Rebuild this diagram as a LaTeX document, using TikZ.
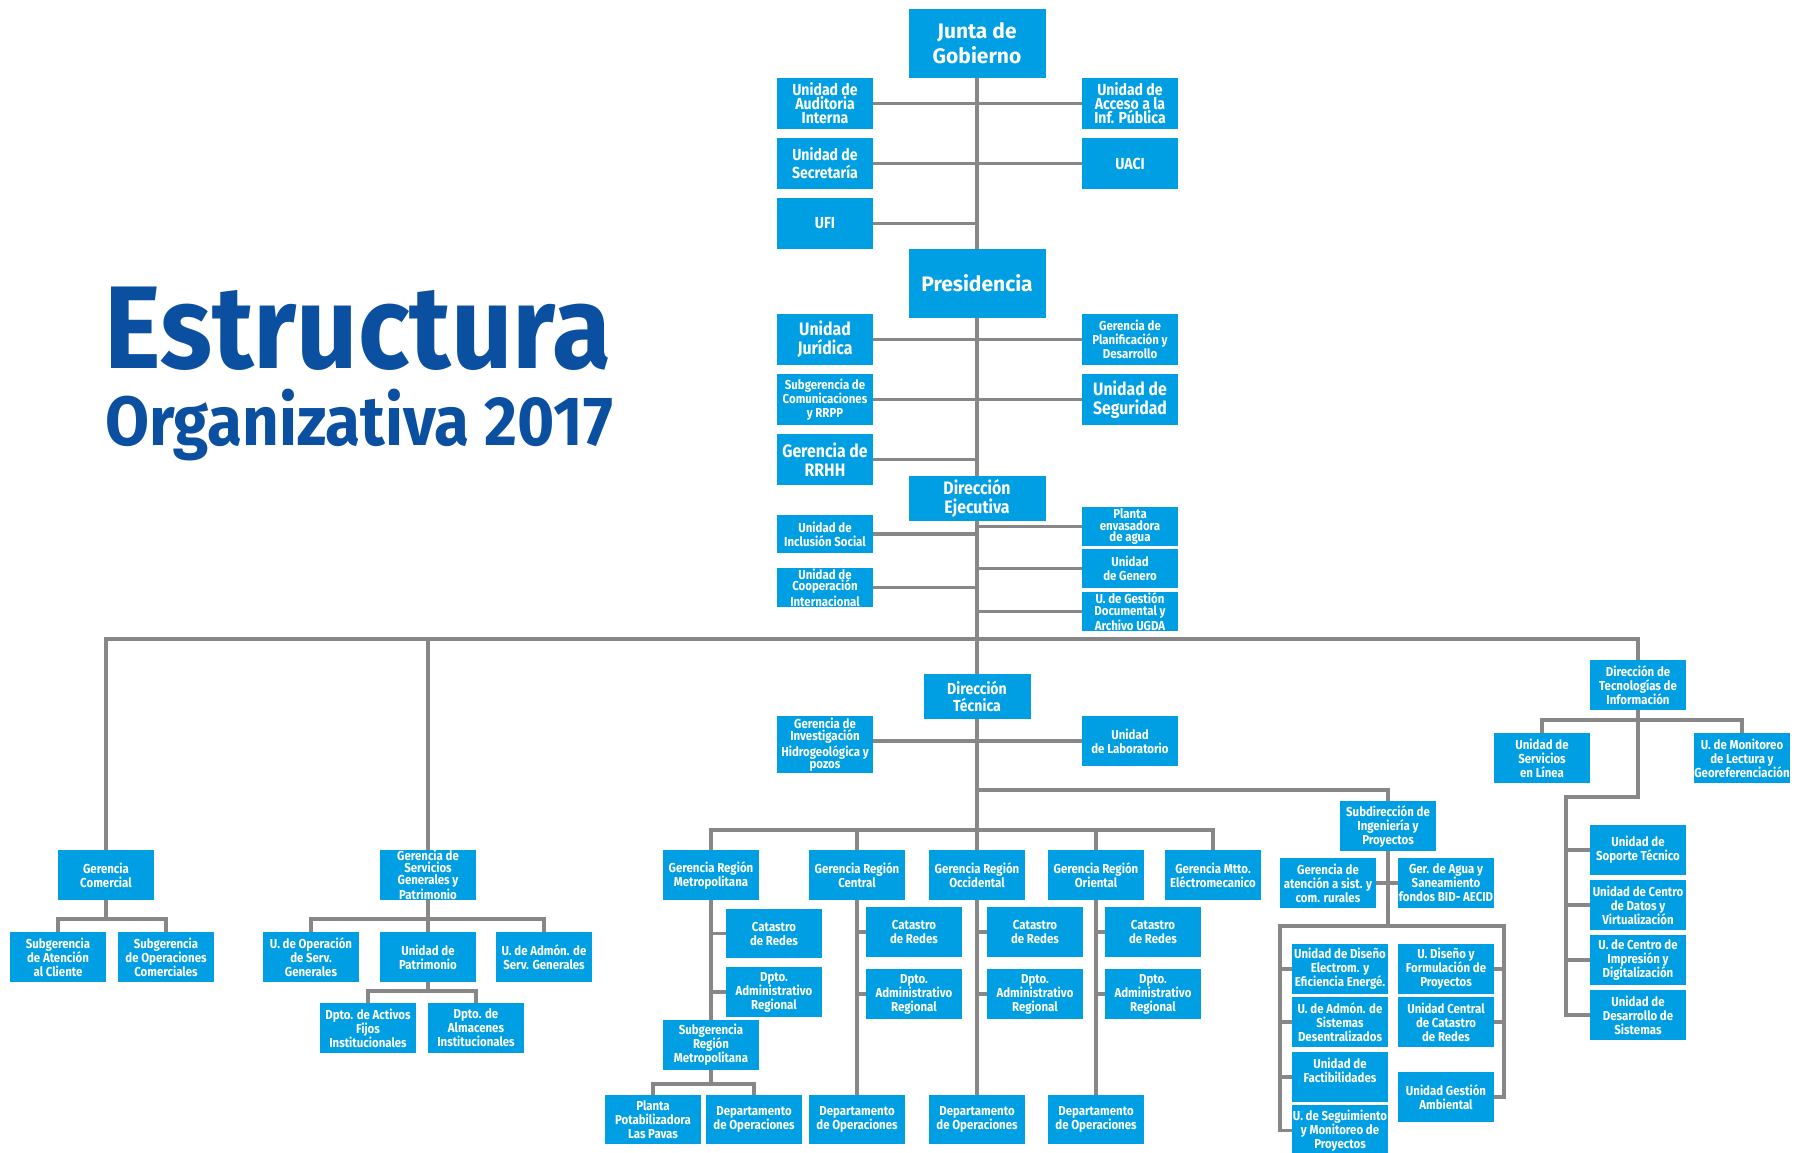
\documentclass[tikz,border=0pt]{standalone}
\usepackage{fontspec}
\usepackage{graphicx}
\usetikzlibrary{backgrounds}
\newfontfamily\boxfont[FakeStretch=0.88]{Fira Sans}
\newfontfamily\bigboxfont{Fira Sans}
\newfontfamily\titlefont{Fira Sans}
\definecolor{boxblue}{HTML}{009FE3}
\definecolor{titleblue}{HTML}{0B4FA0}
\definecolor{linegray}{HTML}{878787}
\tikzset{
  orgbox/.style={fill=boxblue,text=white,inner sep=0pt,outer sep=0pt,align=center,
    font=\boxfont\bfseries\fontsize{6.5}{7}\selectfont},
  fsmall/.style={font=\boxfont\bfseries\fontsize{6.5}{7}\selectfont},
  ftight/.style={font=\boxfont\bfseries\fontsize{6.5}{5.9}\selectfont},
  fmed/.style={font=\boxfont\bfseries\fontsize{8}{7}\selectfont},
  fmedb/.style={font=\boxfont\bfseries\fontsize{8}{9}\selectfont},
  fmedc/.style={font=\boxfont\bfseries\fontsize{8}{8.5}\selectfont},
  flarge/.style={font=\boxfont\bfseries\fontsize{9}{9.5}\selectfont},
  fbig/.style={font=\bigboxfont\bfseries\fontsize{10.5}{12.5}\selectfont},
  conn/.style={draw=linegray,line width=1.7pt},
  titletext/.style={anchor=base west,inner sep=0pt,outer sep=0pt,text=titleblue},
}
\newcommand\obox[7][]{%
  \node[orgbox,#1,minimum width={(#5-#3)*0.5pt},minimum height={(#6-#4)*0.5pt}]
    (#2) at ({(#3+#5)/2},{(#4+#6)/2}) {#7};}
\begin{document}
\begin{tikzpicture}[x=0.5pt,y=-0.5pt]
\useasboundingbox (0,0) rectangle (1803,1152);

% title
\node[titletext,font=\titlefont\bfseries\fontsize{58.8}{60}\selectfont] (t1) at (104,368)
  {\resizebox{253.5pt}{\height}{Estructura}};
\node[titletext,font=\titlefont\bfseries\fontsize{34.8}{36}\selectfont] (t2) at (105,445)
  {\resizebox{254pt}{\height}{Organizativa 2017}};

% top section
\obox[fbig]{jg}{908.5}{9}{1045.5}{78}{Junta de\\Gobierno}
\obox[fmed]{aud}{777}{78}{873}{129}{Unidad de\\Auditoria\\Interna}
\obox[fmed]{acc}{1082}{78}{1178}{129}{Unidad de\\Acceso a la\\Inf. Pública}
\obox[fmedb]{sec}{777}{138}{873}{189}{Unidad de\\Secretaría}
\obox[fmedb]{uaci}{1082}{138}{1178}{189}{UACI}
\obox[fmedb]{ufi}{777}{198}{873}{249}{UFI}
\obox[fbig]{pres}{908.5}{249}{1045.5}{318}{Presidencia}
\obox[flarge]{jur}{777}{314}{873}{365}{Unidad\\Jurídica}
\obox{plan}{1082}{314}{1178}{365}{Gerencia de\\Planificación y\\Desarrollo}
\obox{com}{777}{374}{873}{425}{Subgerencia de\\Comunicaciones\\y RRPP}
\obox[flarge]{seg}{1082}{374}{1178}{425}{Unidad de\\Seguridad}
\obox[flarge]{rrhh}{777}{434}{873}{485}{Gerencia de\\RRHH}
\obox[flarge]{dej}{908.5}{476}{1045.5}{521}{Dirección\\Ejecutiva}
\obox{inc}{777}{515}{873}{553}{Unidad de\\Inclusión Social}
\obox[ftight]{coop}{777}{568}{873}{607}{Unidad de\\Cooperación\\Internacional}
\obox[ftight]{env}{1082}{507}{1178}{546}{Planta\\envasadora\\de agua}
\obox{gen}{1082}{549}{1178}{588}{Unidad\\de Genero}
\obox[ftight]{gdoc}{1082}{592}{1178}{631}{U. de Gestión\\Documental y\\Archivo UGDA}

% direccion tecnica
\obox[fmedc]{dtec}{923.5}{674}{1030.5}{719}{Dirección\\Técnica}
\obox[ftight]{hidro}{777}{716}{873}{773}{Gerencia de\\Investigación\\Hidrogeológica y\\pozos}
\obox{lab}{1082}{716}{1178}{766}{Unidad\\de Laboratorio}

% regiones
\obox{grm}{663}{850}{759}{900}{Gerencia Región\\Metropolitana}
\obox{grc}{809}{850}{905}{900}{Gerencia Región\\Central}
\obox{groc}{929}{850}{1025}{900}{Gerencia Región\\Occidental}
\obox{gror}{1048}{850}{1144}{900}{Gerencia Región\\Oriental}
\obox{gmt}{1165}{850}{1261}{900}{Gerencia Mtto.\\Eléctromecanico}
\obox{cm}{726}{909}{822}{958}{Catastro\\de Redes}
\obox{dm}{726}{967}{822}{1017}{Dpto.\\Administrativo\\Regional}
\obox{sgrm}{663}{1020}{759}{1070}{Subgerencia\\Región\\Metropolitana}
\obox{pp}{605}{1095}{701}{1144}{Planta\\Potabilizadora\\Las Pavas}
\obox{dom}{706}{1095}{802}{1144}{Departamento\\de Operaciones}
\obox{cc}{866}{907}{962}{957}{Catastro\\de Redes}
\obox{dc}{866}{969}{962}{1019}{Dpto.\\Administrativo\\Regional}
\obox{doc}{809}{1095}{905}{1144}{Departamento\\de Operaciones}
\obox{coc}{987}{907}{1083}{957}{Catastro\\de Redes}
\obox{dcoc}{987}{969}{1083}{1019}{Dpto.\\Administrativo\\Regional}
\obox{dooc}{929}{1095}{1025}{1144}{Departamento\\de Operaciones}
\obox{cor}{1105}{907}{1201}{957}{Catastro\\de Redes}
\obox{dor}{1105}{969}{1201}{1019}{Dpto.\\Administrativo\\Regional}
\obox{door}{1048}{1095}{1144}{1144}{Departamento\\de Operaciones}

% subdireccion
\obox{sub}{1340}{801}{1436}{851}{Subdirección de\\Ingeniería y\\Proyectos}
\obox{gat}{1280}{858}{1376}{908}{Gerencia de\\atención a sist. y\\com. rurales}
\obox{gag}{1398}{858}{1494}{908}{Ger. de Agua y\\Saneamiento\\fondos BID- AECID}
\obox{ud}{1292}{944}{1388}{994}{Unidad de Diseño\\Electrom. y\\Eficiencia Energé.}
\obox{uas}{1292}{997}{1388}{1047}{U. de Admón. de\\Sistemas\\Desentralizados}
\obox{uf}{1292}{1052}{1388}{1102}{Unidad de\\Factibilidades\\\mbox{}}
\obox{us}{1292}{1105}{1388}{1156}{U. de Seguimiento\\y Monitoreo de\\Proyectos}
\obox{udf}{1398}{944}{1494}{994}{U. Diseño y\\Formulación de\\Proyectos}
\obox{ucc}{1398}{997}{1494}{1047}{Unidad Central\\de Catastro\\de Redes}
\obox{uga}{1398}{1072}{1494}{1122}{Unidad Gestión\\Ambiental}

% tecnologias
\obox{dti}{1590}{660}{1686}{710}{Dirección de\\Tecnologías de\\Información}
\obox{usl}{1494}{733}{1590}{783}{Unidad de\\Servicios\\en Línea}
\obox{umon}{1694}{733}{1790}{783}{U. de Monitoreo\\de Lectura y\\Georeferenciación}
\obox{ust}{1590}{825}{1686}{875}{Unidad de\\Soporte Técnico}
\obox{ucd}{1590}{880}{1686}{930}{Unidad de Centro\\de Datos y\\Virtualización}
\obox{uci}{1590}{935}{1686}{985}{U. de Centro de\\Impresión y\\Digitalización}
\obox{uds}{1590}{990}{1686}{1040}{Unidad de\\Desarrollo de\\Sistemas}

% left groups
\obox{gc}{58}{850}{154}{900}{Gerencia\\Comercial}
\obox{sac}{10}{932}{106}{982}{Subgerencia\\de Atención\\al Cliente}
\obox{soc}{118}{932}{214}{982}{Subgerencia\\de Operaciones\\Comerciales}
\obox[ftight]{sgp}{380}{850}{476}{900}{Gerencia de\\Servicios\\Generales y\\Patrimonio}
\obox{uos}{263}{932}{359}{982}{U. de Operación\\de Serv.\\Generales}
\obox{upat}{380}{932}{476}{982}{Unidad de\\Patrimonio}
\obox{uadm}{496}{932}{592}{982}{U. de Admón. de\\Serv. Generales}
\obox{daf}{320}{1003}{416}{1053}{Dpto. de Activos\\Fijos\\Institucionales}
\obox{dal}{428}{1003}{524}{1053}{Dpto. de\\Almacenes\\Institucionales}

% connectors
\begin{scope}[on background layer]
\fill[white] (0,0) rectangle (1803,1152);
\coordinate (bus) at (977,639);
\coordinate (c790) at (977,790);
\coordinate (b830) at (977,830);
\coordinate (b1084) at (711,1084);
\coordinate (brl) at (1280,926);
\coordinate (brr) at (1504,926);
\coordinate (ti720) at (1638,720);
\coordinate (tx) at (1566,797);
\coordinate (lb1) at (106,919);
\coordinate (lb2) at (428,919);
\coordinate (lb3) at (428,991);

\draw[conn] (jg.south) -- (dooc.north);
\draw[conn] (aud.east) -- (acc.west);
\draw[conn] (sec.east) -- (uaci.west);
\draw[conn] (ufi.east) -- (ufi.east -| jg.south);
\draw[conn] (jur.east) -- (plan.west);
\draw[conn] (com.east) -- (seg.west);
\draw[conn] (rrhh.east) -- (rrhh.east -| pres.south);
\draw[conn] (inc.east) -- (inc.east -| dej.south);
\draw[conn] (coop.east) -- (coop.east -| dej.south);
\draw[conn] (env.west) -- (env.west -| dej.south);
\draw[conn] (gen.west) -- (gen.west -| dej.south);
\draw[conn] (gdoc.west) -- (gdoc.west -| dej.south);

\draw[conn] (gc.north) |- (bus) -| (dti.north);
\draw[conn] (sgp.north) -- (sgp.north |- bus);
\draw[conn] (hidro.east |- lab.west) -- (lab.west);
\draw[conn] (c790) -| (sub.north);

\draw[conn] (grm.north) |- (b830) -| (gmt.north);
\draw[conn] (grc.north) -- (grc.north |- b830);
\draw[conn] (gror.north) -- (gror.north |- b830);

\draw[conn] (grm.south) -- (sgrm.north);
\draw[conn] (cm.west) -- (cm.west -| grm.south);
\draw[conn] (dm.west) -- (dm.west -| grm.south);
\draw[conn] (sgrm.south) -- (b1084);
\draw[conn] (pp.north) |- (b1084) -| (dom.north);

\draw[conn] (grc.south) -- (doc.north);
\draw[conn] (cc.west) -- (cc.west -| grc.south);
\draw[conn] (dc.west) -- (dc.west -| grc.south);
\draw[conn] (coc.west) -- (coc.west -| groc.south);
\draw[conn] (dcoc.west) -- (dcoc.west -| groc.south);
\draw[conn] (gror.south) -- (door.north);
\draw[conn] (cor.west) -- (cor.west -| gror.south);
\draw[conn] (dor.west) -- (dor.west -| gror.south);

\draw[conn] (sub.south) -- (sub.south |- brl);
\draw[conn] (gat.east) -- (gag.west);
\draw[conn] (us.west) -| (brl) -- (brr) |- (uga.east);
\draw[conn] (ud.west) -- (ud.west -| brl);
\draw[conn] (uas.west) -- (uas.west -| brl);
\draw[conn] (uf.west) -- (uf.west -| brl);
\draw[conn] (udf.east) -- (udf.east -| brr);
\draw[conn] (ucc.east) -- (ucc.east -| brr);

\draw[conn] (usl.north) |- (ti720) -| (umon.north);
\draw[conn] (dti.south) |- (tx) |- (uds.west);
\draw[conn] (ust.west) -- (ust.west -| tx);
\draw[conn] (ucd.west) -- (ucd.west -| tx);
\draw[conn] (uci.west) -- (uci.west -| tx);

\draw[conn] (gc.south) -- (lb1);
\draw[conn] (sac.north) |- (lb1) -| (soc.north);
\draw[conn] (sgp.south) -- (upat.north);
\draw[conn] (uos.north) |- (lb2) -| (uadm.north);
\draw[conn] (upat.south) -- (lb3);
\draw[conn] (daf.north) |- (lb3) -| (dal.north);
\end{scope}
\end{tikzpicture}
\end{document}
